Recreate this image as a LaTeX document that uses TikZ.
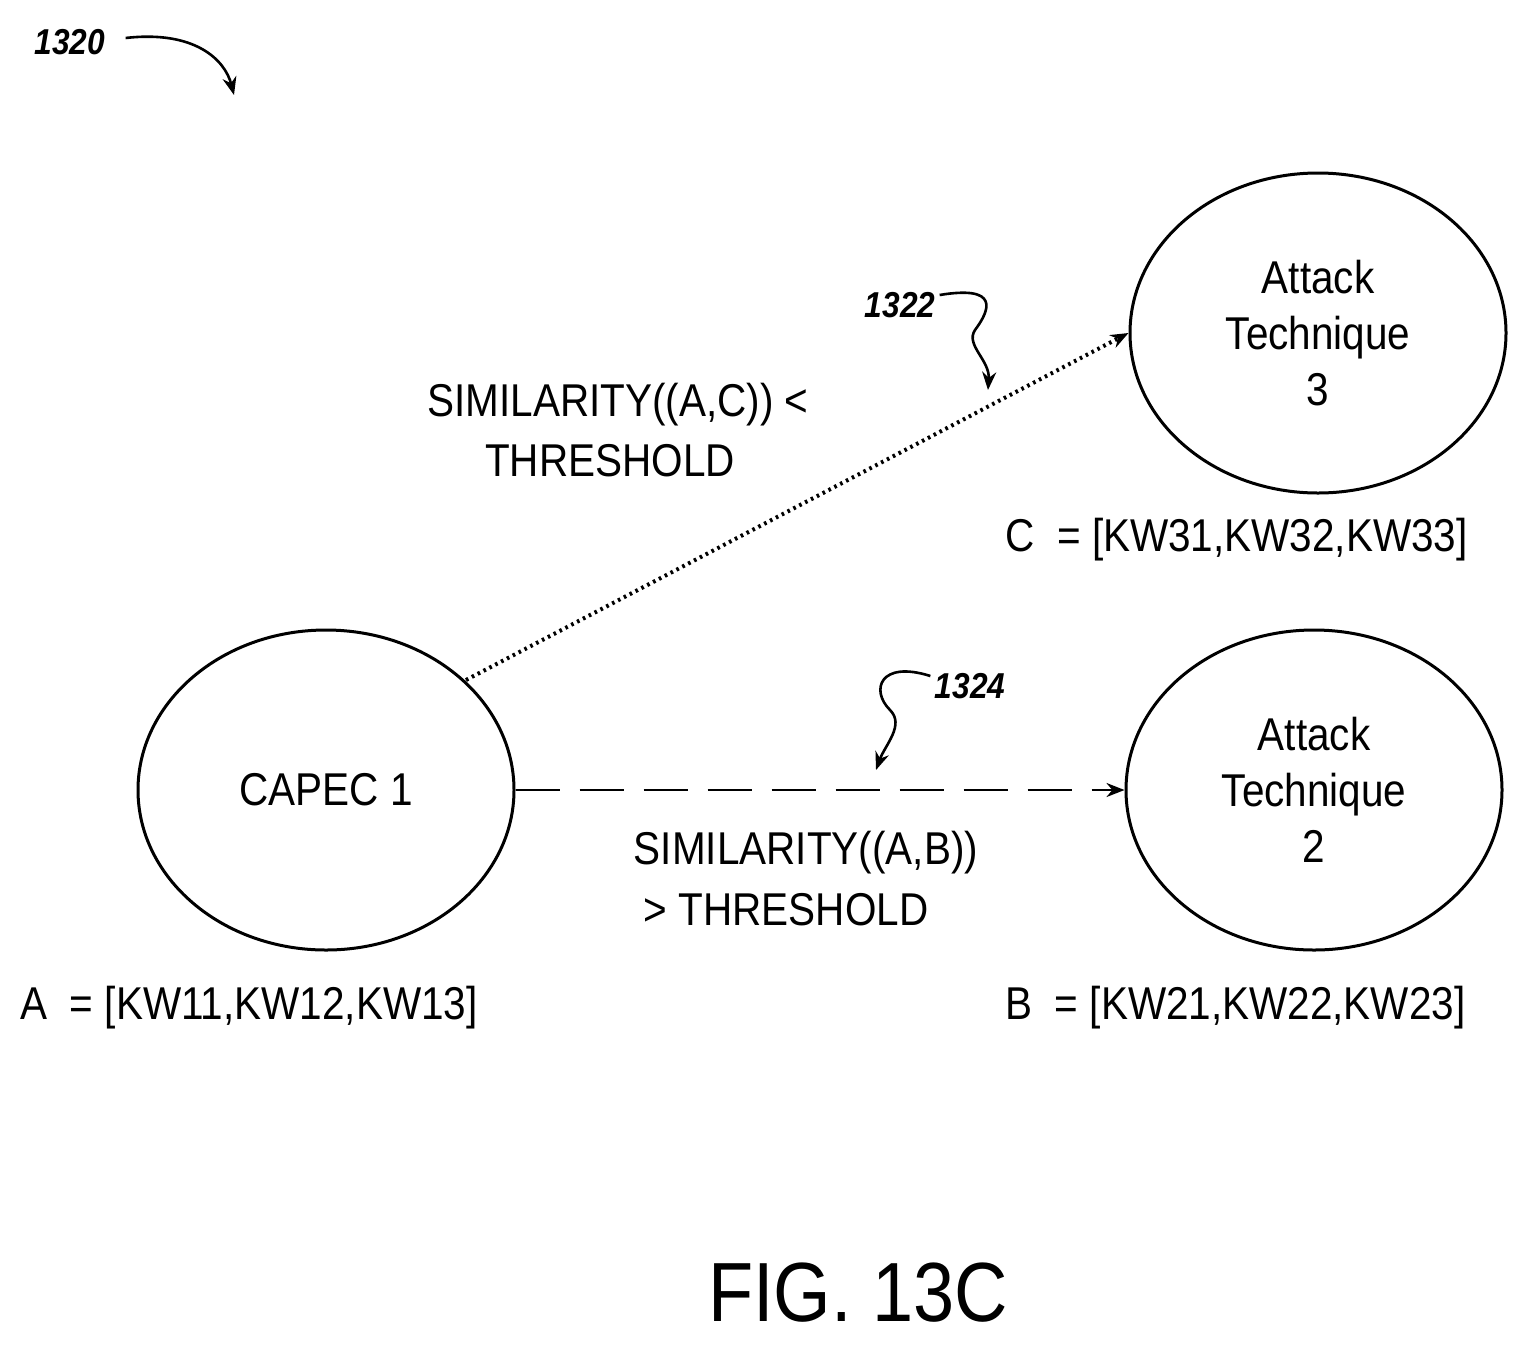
\documentclass[tikz,border=0pt]{standalone}
\usepackage{fontspec}
\setmainfont{Liberation Sans}[FakeStretch=0.88]
\usetikzlibrary{arrows.meta,shapes.geometric}
\begin{document}
\begin{tikzpicture}[x=0.5pt,y=-0.5pt,
  ell/.style={draw,line width=1.5pt,ellipse,minimum width=188pt,minimum height=160pt,align=center,font=\fontsize{23}{28}\selectfont,inner sep=0},
  txt/.style={font=\fontsize{23}{28}\selectfont,inner sep=0,align=center},
  ref/.style={font=\fontsize{18}{20}\selectfont\bfseries\itshape,inner sep=0},
  tip/.style={-{Stealth[length=9pt,width=7pt]},line width=1.3pt}]
\useasboundingbox (0,0) rectangle (1530,1345);
\node[ell] (c1) at (326,790) {CAPEC 1};
\node[ell] (t3) at (1318,333) {Attack\\Technique\\3};
\node[ell] (t2) at (1314,790) {Attack\\Technique\\2};
\coordinate (d0) at (466,680);
\draw[tip,dotted,line width=2pt] (d0) -- (t3.west);
\draw[tip,dash pattern=on 22pt off 10pt] (c1.east) -- (t2.west);
\node[txt] (l1) at (618,405) {SIMILARITY((A,C)) <};
\node[txt] (l2) at (610,461) {THRESHOLD};
\node[txt] (l3) at (806,853) {SIMILARITY((A,B))};
\node[txt] (l4) at (786,910) {> THRESHOLD};
\node[txt,anchor=west] (ka) at (20,1008) {A\ \ = [KW11,KW12,KW13]};
\node[txt,anchor=west] (kb) at (1005,1008) {B\ \ = [KW21,KW22,KW23]};
\node[txt,anchor=west] (kc) at (1005,540) {C\ \ = [KW31,KW32,KW33]};
\node[ref] (r0) at (70,42) {1320};
\node[ref] (r1) at (900,305) {1322};
\node[ref] (r2) at (970,686) {1324};
\coordinate (a0) at (234,95);
\coordinate (a1) at (988,390);
\coordinate (a2) at (876,770);
\draw[tip] (r0.east)++(20,-4) .. controls (195,30) and (225,60) .. (a0);
\draw[tip] (r1.east)++(4,-10) .. controls (1000,285) and (990,310) .. (975,330) .. controls (965,345) and (990,360) .. (a1);
\draw[tip] (r2.west)++(-4,-10) .. controls (880,660) and (870,690) .. (890,710) .. controls (905,725) and (885,745) .. (a2);
\node[font=\fontsize{42}{48}\selectfont,inner sep=0] (fig) at (858,1293) {FIG. 13C};
\end{tikzpicture}
\end{document}
